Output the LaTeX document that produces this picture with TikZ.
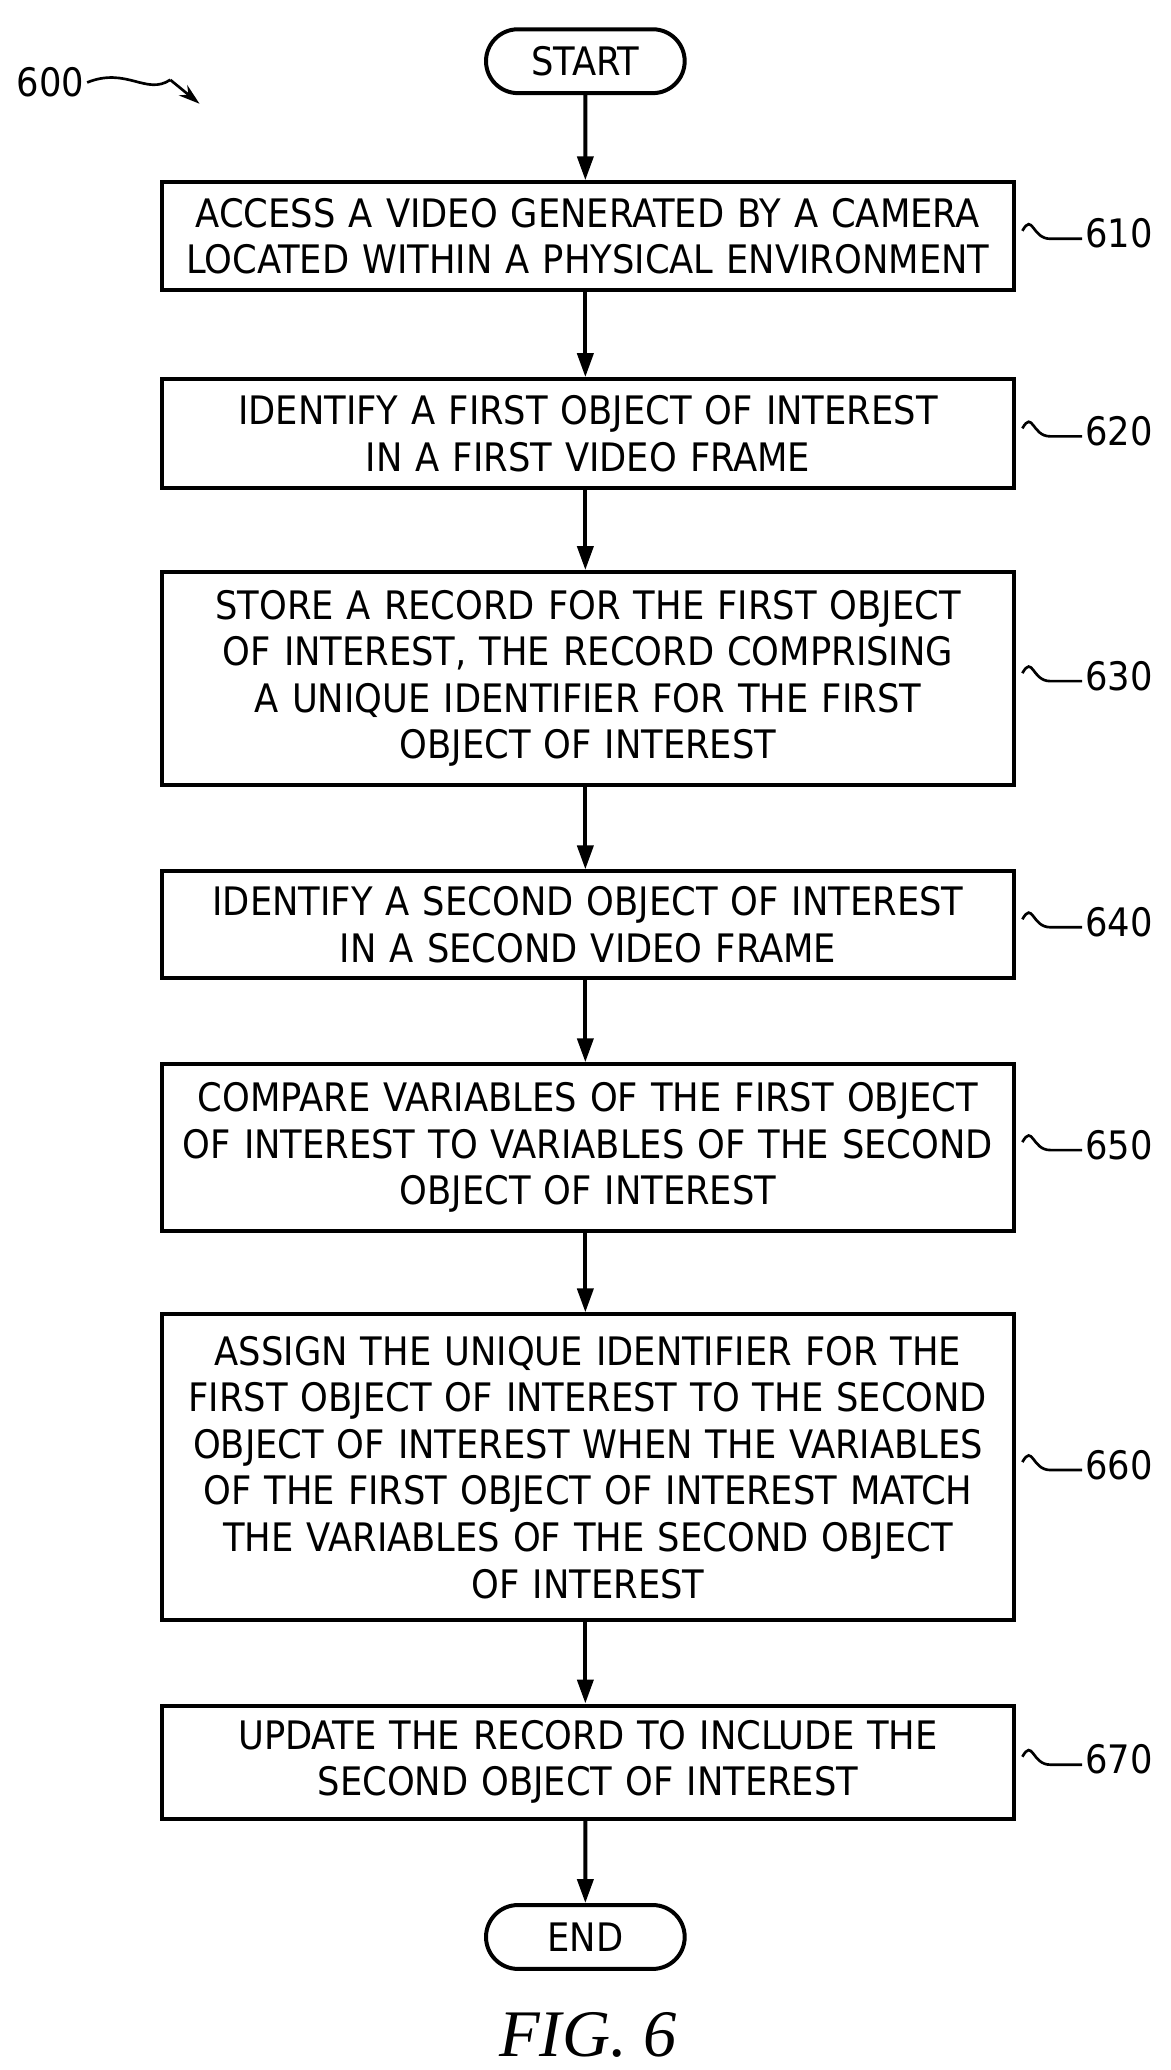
\documentclass[tikz,border=0pt]{standalone}
\usepackage{fontspec}
\setmainfont{DejaVu Sans Condensed}
\newfontfamily\figfont{Liberation Serif}
\usetikzlibrary{arrows.meta,shapes.misc}
\begin{document}
\begin{tikzpicture}[x=1pt,y=-1pt,
  stepbox/.style={draw,line width=3pt,minimum width=640pt,text width=632pt,align=center,font=\fontsize{29.5}{35}\selectfont,inner sep=0pt},
  term/.style={draw,line width=3pt,rounded rectangle,minimum width=156pt,minimum height=48pt,font=\fontsize{29.5}{35}\selectfont},
  arr/.style={line width=3pt,-{Triangle[length=18pt,width=12pt]}},
  lab/.style={font=\fontsize{29.5}{35}\selectfont,anchor=west,inner sep=2pt},
  sq/.style={line width=2pt}]
\useasboundingbox (0,0) rectangle (880,1556);
\node[term] (s) at (440,46) {START};
\node[stepbox,minimum height=81pt] (b1) at (442,177.5) {ACCESS A VIDEO GENERATED BY A CAMERA\\LOCATED WITHIN A PHYSICAL ENVIRONMENT};
\node[stepbox,minimum height=82pt] (b2) at (442,326) {IDENTIFY A FIRST OBJECT OF INTEREST\\IN A FIRST VIDEO FRAME};
\node[stepbox,minimum height=160pt] (b3) at (442,510) {STORE A RECORD FOR THE FIRST OBJECT\\OF INTEREST, THE RECORD COMPRISING\\A UNIQUE IDENTIFIER FOR THE FIRST\\OBJECT OF INTEREST};
\node[stepbox,minimum height=80pt] (b4) at (442,695) {IDENTIFY A SECOND OBJECT OF INTEREST\\IN A SECOND VIDEO FRAME};
\node[stepbox,minimum height=125pt] (b5) at (442,862.5) {COMPARE VARIABLES OF THE FIRST OBJECT\\OF INTEREST TO VARIABLES OF THE SECOND\\OBJECT OF INTEREST};
\node[stepbox,minimum height=230pt] (b6) at (442,1103) {ASSIGN THE UNIQUE IDENTIFIER FOR THE\\FIRST OBJECT OF INTEREST TO THE SECOND\\OBJECT OF INTEREST WHEN THE VARIABLES\\OF THE FIRST OBJECT OF INTEREST MATCH\\THE VARIABLES OF THE SECOND OBJECT\\OF INTEREST};
\node[stepbox,minimum height=85pt] (b7) at (442,1324.5) {UPDATE THE RECORD TO INCLUDE THE\\SECOND OBJECT OF INTEREST};
\node[term] (e) at (440,1456) {END};
\draw[arr] (s) -- (s|-b1.north);
\foreach \a/\b in {b1/b2,b2/b3,b3/b4,b4/b5,b5/b6,b6/b7}{\draw[arr] (\a.south-|s) -- (\b.north-|s);}
\draw[arr] (b7.south-|s) -- (e);
\foreach \b/\n in {b1/610,b2/620,b3/630,b4/640,b5/650,b6/660,b7/670}{
  \node[lab] (l\n) at ([xshift=50pt,yshift=2pt]\b.east) {\n};
  \draw[sq] ([xshift=5pt,yshift=4pt]\b.east) .. controls +(8,-14) and +(-14,0) .. ([xshift=26pt,yshift=-2pt]\b.east) -- ([yshift=-4pt]l\n.west);}
\node[lab,anchor=center] (l600) at (38,62) {600};
\coordinate (a600) at (150,78);
\draw[sq] (l600.east) .. controls (95,50) and (110,72) .. (128,60);
\draw[sq,-{Stealth[length=16pt,width=10pt]}] (128,60) -- (a600);
\node[font=\figfont\itshape\fontsize{50}{55}\selectfont] (fig) at (442,1530) {FIG. 6};
\end{tikzpicture}
\end{document}
